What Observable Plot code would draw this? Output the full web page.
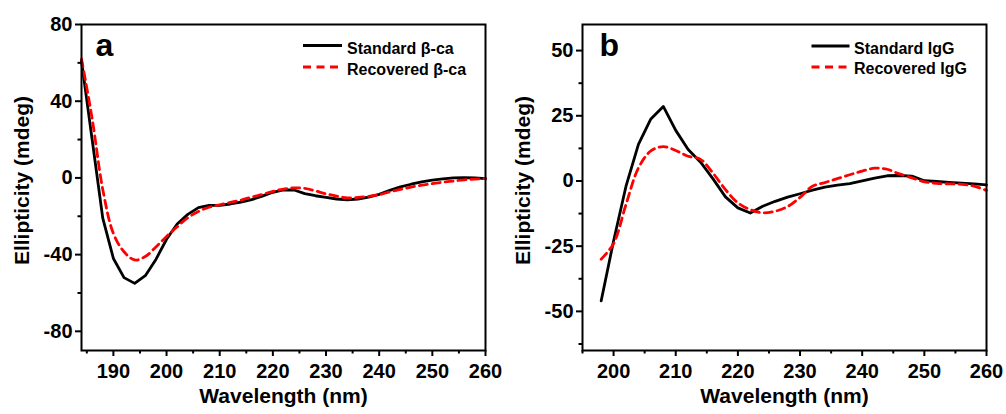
<!DOCTYPE html>
<html><head><meta charset="utf-8">
<script src="https://cdn.jsdelivr.net/npm/d3@7"></script>
<script src="https://cdn.jsdelivr.net/npm/@observablehq/plot@0.6"></script>
<style>
body{margin:0;background:#fff;}
#wrap{position:relative;width:1006px;height:414px;font-family:"Liberation Sans",Arial,sans-serif;}
.panel{position:absolute;top:0;}
svg{overflow:visible}
#legend{position:absolute;left:0;top:0;pointer-events:none;}
</style></head><body><div id="wrap">
<div class="panel" id="pa" style="left:0"></div>
<div class="panel" id="pb" style="left:500px"></div>
<svg id="legend" width="1006" height="414" font-family="Liberation Sans, Arial, sans-serif" font-weight="bold" font-size="16">
  <line x1="303" x2="342" y1="45.5" y2="45.5" stroke="black" stroke-width="2.8"/>
  <text x="347" y="53.5">Standard β-ca</text>
  <line x1="303" x2="342" y1="67" y2="67" stroke="#ff0000" stroke-width="2.8" stroke-dasharray="8,5.5"/>
  <text x="347" y="75">Recovered β-ca</text>
  <line x1="811.5" x2="849.5" y1="46" y2="46" stroke="black" stroke-width="2.8"/>
  <text x="854" y="53.5">Standard IgG</text>
  <line x1="811.5" x2="849.5" y1="67" y2="67" stroke="#ff0000" stroke-width="2.8" stroke-dasharray="8,5.5"/>
  <text x="854" y="73.5">Recovered IgG</text>
</svg>
</div>
<script>
// Panel a: beta-carbonic anhydrase
const wlA = [184,186,188,190,192,194,196,198,200,202,204,206,208,210,212,214,216,218,220,222,224,226,228,230,232,234,236,238,240,242,244,246,248,250,252,254,256,258,260];
const stdBca = [61,20,-21,-42,-52,-55,-51,-42.5,-32,-24,-19,-15.5,-14.3,-14.3,-13.6,-12.6,-11.3,-9.5,-7.5,-6.3,-6.3,-8.2,-9.3,-10.2,-11,-11.4,-11,-10,-8.6,-6.5,-4.7,-3.3,-2.1,-1.2,-0.5,0,0.2,0,-0.4];
const recBca = [62,31,-6,-29,-38.5,-42.8,-41,-36,-30.5,-25.5,-20.8,-17.5,-15.3,-14,-12.8,-11.6,-10,-8.6,-7,-5.8,-5.2,-5.5,-6.8,-8.3,-9.5,-10.4,-10.2,-9.6,-8.7,-7.3,-6,-4.8,-3.8,-3,-2.2,-1.6,-1,-0.6,-0.4];
const xMajorA = [190,200,210,220,230,240,250,260];
const xMinorA = [185,195,205,215,225,235,245,255];
const yMajorA = [-80,-40,0,40,80];
const yMinorA = [-60,-20,20,60];

// Panel b: IgG
const wlB = [198,200,202,204,206,208,210,212,214,216,218,220,222,224,226,228,230,232,234,236,238,240,242,244,246,248,250,252,254,256,258,260];
const stdIgG = [-46,-23,-2,14,23.8,28.6,19.4,12.1,7.2,0.8,-6.1,-10.3,-12.3,-9.7,-7.8,-6.2,-4.9,-3.5,-2.4,-1.6,-1,0,1.1,2,2.1,1.9,0.1,-0.2,-0.5,-0.8,-1.1,-1.5];
const recIgG = [-30,-24,-9,5,11.5,13.2,11.7,9.5,8.3,3,-3.3,-8.4,-11,-12.2,-11.6,-9.8,-6.3,-2,-0.6,0.9,2.4,3.8,4.9,4.5,2.7,1.2,-0.3,-0.9,-1.1,-1.3,-2,-3.6];
const xMajorB = [200,210,220,230,240,250,260];
const xMinorB = [195,205,215,225,235,245,255];
const yMajorB = [-50,-25,0,25,50];
const yMinorB = [-62.5,-37.5,-12.5,12.5,37.5];

const font = '"Liberation Sans", Arial, sans-serif';

function makePanel(o) {
  return Plot.plot({
    width: o.width, height: 414,
    marginLeft: o.mL, marginRight: o.mR, marginTop: 24, marginBottom: 64,
    x: {domain: o.xDomain},
    y: {domain: o.yDomain},
    style: {fontFamily: font, background: "transparent", overflow: "visible", color: "black"},
    marks: [
      Plot.line(o.std, {x: o.wl, y: o.std, stroke: "black", strokeWidth: 2.8}),
      Plot.line(o.rec, {x: o.wl, y: o.rec, stroke: "#ff0000", strokeWidth: 2.8, strokeDasharray: "8,5", curve: "catmull-rom"}),
      Plot.frame({stroke: "black", strokeWidth: 2}),
      Plot.axisX({ticks: o.xMajor, tickSize: 6, tickPadding: 7, strokeWidth: 2, fontSize: 20, fontWeight: "bold", label: null, tickFormat: d => String(d)}),
      Plot.axisX({ticks: o.xMinor, tickSize: 3.5, strokeWidth: 2, label: null, tickFormat: () => ""}),
      Plot.axisY({ticks: o.yMajor, tickSize: 6, tickPadding: 3, strokeWidth: 2, fontSize: 20, fontWeight: "bold", label: null, tickFormat: d => String(d)}),
      Plot.axisY({ticks: o.yMinor, tickSize: 3.5, strokeWidth: 2, label: null, tickFormat: () => ""}),
      Plot.text([o.letter], {frameAnchor: "top-left", text: d => d, dx: o.letterDx, dy: 31, lineAnchor: "bottom", textAnchor: "start", fontSize: 32, fontWeight: "bold"}),
      Plot.text(["Wavelength (nm)"], {frameAnchor: "bottom", text: d => d, dy: 46, lineAnchor: "middle", textAnchor: "middle", fontSize: 21, fontWeight: "bold"}),
      Plot.text(["Ellipticity (mdeg)"], {frameAnchor: "left", text: d => d, dx: -59, dy: -7, rotate: -90, lineAnchor: "middle", textAnchor: "middle", fontSize: 21, fontWeight: "bold"})
    ]
  });
}

document.getElementById("pa").append(makePanel({
  width: 500, mL: 81, mR: 15, xDomain: [184, 260], yDomain: [-90, 80],
  wl: wlA, std: stdBca, rec: recBca,
  xMajor: xMajorA, xMinor: xMinorA, yMajor: yMajorA, yMinor: yMinorA,
  letter: "a", letterDx: 14
}));
document.getElementById("pb").append(makePanel({
  width: 506, mL: 82, mR: 20, xDomain: [195, 260], yDomain: [-65, 60],
  wl: wlB, std: stdIgG, rec: recIgG,
  xMajor: xMajorB, xMinor: xMinorB, yMajor: yMajorB, yMinor: yMinorB,
  letter: "b", letterDx: 17
}));
</script>
</body></html>
